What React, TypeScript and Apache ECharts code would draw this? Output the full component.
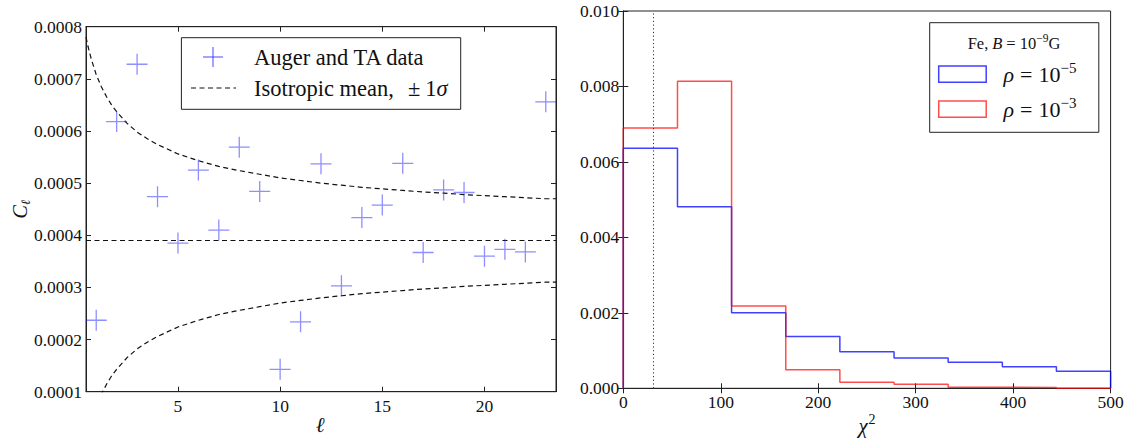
import React, { useEffect, useRef } from "react";
import * as echarts from "echarts";

// ---------- Left panel data ----------
const ELL = [1, 2, 3, 4, 5, 6, 7, 8, 9, 10, 11, 12, 13, 14, 15, 16, 17, 18, 19, 20, 21, 22, 23];
const CL = [
  0.000237, 0.000618, 0.000728, 0.000474, 0.000385, 0.000525, 0.00041, 0.000569, 0.000484,
  0.000143, 0.000234, 0.000537, 0.000303, 0.000434, 0.000458, 0.000538, 0.000367, 0.000487,
  0.000482, 0.00036, 0.000373, 0.000368, 0.000656,
];
const MEAN = 0.00039;
const SIG_ELL = [
  0.5, 0.6, 0.75, 1, 1.25, 1.5, 1.75, 2, 2.5, 3, 3.5, 4, 5, 6, 7, 8, 9, 10, 11, 12, 13, 14, 15, 16,
  17, 18, 19, 20, 21, 22, 23, 23.5,
];
const SIG_UP = [
  0.00078, 0.000762, 0.000739, 0.000708, 0.000685, 0.000666, 0.00065, 0.000637, 0.000615, 0.000598,
  0.000585, 0.000574, 0.000556, 0.000543, 0.000532, 0.000524, 0.000517, 0.00051, 0.000505, 0.0005,
  0.000496, 0.000492, 0.000489, 0.000486, 0.000483, 0.000481, 0.000478, 0.000476, 0.000474, 0.000472,
  0.00047, 0.00047,
];
const SIG_LO = [
  0.0, 0.000018, 0.000041, 0.000072, 0.000095, 0.000114, 0.00013, 0.000143, 0.000165, 0.000182,
  0.000195, 0.000206, 0.000224, 0.000237, 0.000248, 0.000256, 0.000263, 0.00027, 0.000275, 0.00028,
  0.000284, 0.000288, 0.000291, 0.000294, 0.000297, 0.000299, 0.000302, 0.000304, 0.000306, 0.000308,
  0.00031, 0.00031,
];
const L_XMIN = 0.5;
const L_XMAX = 23.5;
const L_XTICKS = [5, 10, 15, 20];

// ---------- Right panel data ----------
const BIN_EDGES = [0, 55.6, 111.1, 166.7, 222.2, 277.8, 333.3, 388.9, 444.4, 500];
const BLUE_HIST = [0.00636, 0.00481, 0.002, 0.00137, 0.00097, 0.0008, 0.00069, 0.00057, 0.00045];
const RED_HIST = [0.0069, 0.00814, 0.00218, 0.00049, 0.00016, 0.00011, 0.00003, 0.00002, 0];
const CHI2_OBS = 31;

const SERIF = "Liberation Serif, DejaVu Serif, serif";
const AX = "#222";
const INK = "#111";
const BLUE = "rgba(0,0,255,0.75)";
const RED = "rgba(255,0,0,0.7)";
const MARK = "rgba(40,40,255,0.65)";

function stepPoints(edges: number[], vals: number[]) {
  const pts: number[][] = [[edges[0], 0]];
  vals.forEach((v, i) => {
    pts.push([edges[i], v]);
    pts.push([edges[i + 1], v]);
  });
  pts.push([edges[edges.length - 1], 0]);
  return pts;
}

let ctx: CanvasRenderingContext2D | null = null;
function measure(text: string, size: number, italic: boolean) {
  if (!ctx) ctx = document.createElement("canvas").getContext("2d");
  if (!ctx) return text.length * size * 0.5;
  ctx.font = `${italic ? "italic " : ""}${size}px ${SERIF}`;
  return ctx.measureText(text).width;
}

type Piece = { t: string; size: number; italic?: boolean; dy?: number; gap?: number };
function mathText(pieces: Piece[], x: number, y: number, align: "left" | "center", rotation = 0) {
  let cx = 0;
  const kids: any[] = [];
  pieces.forEach((p) => {
    cx += p.gap || 0;
    kids.push({
      type: "text",
      x: cx,
      y: p.dy || 0,
      z: 110,
      style: {
        text: p.t,
        fontFamily: SERIF,
        fontSize: p.size,
        fontStyle: p.italic ? "italic" : "normal",
        fill: INK,
        align: "left",
        verticalAlign: "middle",
      },
    });
    cx += measure(p.t, p.size, !!p.italic);
  });
  if (align === "center") kids.forEach((k) => (k.x -= cx / 2));
  return { type: "group", x, y, rotation, z: 110, children: kids };
}

const tickStyle = { inside: true, length: 5, lineStyle: { color: AX, width: 1 } };
const lineStyleAx = { show: true, lineStyle: { color: AX, width: 1 } };
const labelFont = { fontFamily: SERIF, fontSize: 17.5, color: INK };

export default function App() {
  const ref = useRef<HTMLDivElement>(null);
  useEffect(() => {
    if (!ref.current) return;
    const chart = echarts.init(ref.current, null, { renderer: "svg" });

    const G0 = { left: 86, top: 26.7, width: 470, height: 365 };
    const G1 = { left: 623.3, top: 11, width: 487.3, height: 377.3 };

    const dash = { color: INK, width: 1.2, type: [5, 3.5] };

    const option: any = {
      animation: false,
      backgroundColor: "#fff",
      textStyle: { fontFamily: SERIF, color: INK },
      grid: [
        { ...G0, show: true, borderColor: AX, borderWidth: 1 },
        { ...G1, show: true, borderColor: AX, borderWidth: 1 },
      ],
      xAxis: [
        {
          type: "value", gridIndex: 0, min: L_XMIN, max: L_XMAX, position: "bottom",
          axisLine: lineStyleAx, splitLine: { show: false },
          axisTick: { ...tickStyle, customValues: L_XTICKS },
          axisLabel: { ...labelFont, margin: 5, customValues: L_XTICKS },
        },
        {
          type: "value", gridIndex: 0, min: L_XMIN, max: L_XMAX, position: "top",
          axisLine: lineStyleAx, splitLine: { show: false },
          axisTick: { ...tickStyle, customValues: L_XTICKS },
          axisLabel: { show: false },
        },
        {
          type: "value", gridIndex: 1, min: 0, max: 500, interval: 100, position: "bottom",
          axisLine: lineStyleAx, splitLine: { show: false }, axisTick: tickStyle,
          axisLabel: { ...labelFont, margin: 5, showMinLabel: true, showMaxLabel: true },
        },
        {
          type: "value", gridIndex: 1, min: 0, max: 500, interval: 100, position: "top",
          axisLine: lineStyleAx, splitLine: { show: false }, axisTick: tickStyle,
          axisLabel: { show: false },
        },
      ],
      yAxis: [
        {
          type: "value", gridIndex: 0, min: 0.0001, max: 0.0008, interval: 0.0001, position: "left",
          axisLine: lineStyleAx, splitLine: { show: false }, axisTick: tickStyle,
          axisLabel: { ...labelFont, margin: 4, showMinLabel: true, showMaxLabel: true, formatter: (v: number) => v.toFixed(4) },
        },
        {
          type: "value", gridIndex: 0, min: 0.0001, max: 0.0008, interval: 0.0001, position: "right",
          axisLine: lineStyleAx, splitLine: { show: false }, axisTick: tickStyle,
          axisLabel: { show: false },
        },
        {
          type: "value", gridIndex: 1, min: 0, max: 0.01, interval: 0.002, position: "left",
          axisLine: lineStyleAx, splitLine: { show: false }, axisTick: tickStyle,
          axisLabel: { ...labelFont, margin: 4, showMinLabel: true, showMaxLabel: true, formatter: (v: number) => v.toFixed(3) },
        },
        {
          type: "value", gridIndex: 1, min: 0, max: 0.01, interval: 0.002, position: "right",
          axisLine: lineStyleAx, splitLine: { show: false }, axisTick: tickStyle,
          axisLabel: { show: false },
        },
      ],
      series: [
        {
          name: "Auger and TA data", type: "scatter", xAxisIndex: 0, yAxisIndex: 0,
          data: ELL.map((l, i) => [l, CL[i]]),
          symbol: "path://M10 0L10 20M0 10L20 10", symbolSize: 21,
          itemStyle: { color: "none", borderColor: MARK, borderWidth: 1.3 },
          z: 5,
        },
        {
          name: "Isotropic mean", type: "line", xAxisIndex: 0, yAxisIndex: 0,
          data: [[L_XMIN, MEAN], [L_XMAX, MEAN]], symbol: "none", lineStyle: dash,
        },
        {
          name: "+1 sigma", type: "line", xAxisIndex: 0, yAxisIndex: 0,
          data: SIG_ELL.map((l, i) => [l, SIG_UP[i]]), symbol: "none", lineStyle: dash, clip: true,
        },
        {
          name: "-1 sigma", type: "line", xAxisIndex: 0, yAxisIndex: 0,
          data: SIG_ELL.map((l, i) => [l, SIG_LO[i]]), symbol: "none", lineStyle: dash, clip: true,
        },
        {
          name: "rho=1e-5", type: "line", xAxisIndex: 2, yAxisIndex: 2,
          data: stepPoints(BIN_EDGES, BLUE_HIST), symbol: "none",
          lineStyle: { color: BLUE, width: 1.5 },
          markLine: {
            silent: true, symbol: "none", label: { show: false },
            lineStyle: { color: "#333", width: 1, type: [1.2, 2.5] },
            data: [{ xAxis: CHI2_OBS }],
          },
        },
        {
          name: "rho=1e-3", type: "line", xAxisIndex: 2, yAxisIndex: 2,
          data: stepPoints(BIN_EDGES, RED_HIST), symbol: "none",
          lineStyle: { color: RED, width: 1.5 },
        },
      ],
      graphic: [
        // Left legend
        { type: "rect", shape: { x: 181.4, y: 37.7, width: 279.3, height: 71.6 }, style: { fill: "#fff", stroke: AX, lineWidth: 1 }, z: 100 },
        { type: "line", shape: { x1: 203, y1: 57, x2: 223, y2: 57 }, style: { stroke: MARK, lineWidth: 1.3 }, z: 101 },
        { type: "line", shape: { x1: 213, y1: 47, x2: 213, y2: 67 }, style: { stroke: MARK, lineWidth: 1.3 }, z: 101 },
        { type: "line", shape: { x1: 191, y1: 88, x2: 236, y2: 88 }, style: { stroke: INK, lineWidth: 1.2, lineDash: [5, 3.5] }, z: 101 },
        mathText([{ t: "Auger and TA data", size: 22.5 }], 254, 57, "left"),
        mathText(
          [
            { t: "Isotropic mean,", size: 22.5 },
            { t: "±", size: 22.5, gap: 14 },
            { t: "1", size: 22.5, gap: 5 },
            { t: "σ", size: 22.5, italic: true },
          ],
          254, 88, "left"
        ),
        // Left axis names
        mathText([{ t: "C", size: 20, italic: true }, { t: "ℓ", size: 13, italic: true, dy: 5 }], 20, 209, "center", Math.PI / 2),
        mathText([{ t: "ℓ", size: 21, italic: true }], 320, 425, "center"),
        // Right axis name
        mathText([{ t: "χ", size: 21, italic: true }, { t: "2", size: 14, dy: -7, gap: 1 }], 867, 426, "center"),
        // Right legend
        { type: "rect", shape: { x: 929.7, y: 22.7, width: 169.1, height: 109.6 }, style: { fill: "#fff", stroke: AX, lineWidth: 1 }, z: 100 },
        mathText(
          [
            { t: "Fe,", size: 16.5 },
            { t: "B", size: 16.5, italic: true, gap: 4 },
            { t: "=", size: 16.5, gap: 4 },
            { t: "10", size: 16.5, gap: 4 },
            { t: "−9", size: 11.5, dy: -5 },
            { t: "G", size: 16.5 },
          ],
          1014, 43, "center"
        ),
        { type: "rect", shape: { x: 938.7, y: 66, width: 47.5, height: 16.3 }, style: { fill: "none", stroke: BLUE, lineWidth: 1.5 }, z: 101 },
        { type: "rect", shape: { x: 938.7, y: 101, width: 47.5, height: 16.3 }, style: { fill: "none", stroke: RED, lineWidth: 1.5 }, z: 101 },
        mathText(
          [
            { t: "ρ", size: 22, italic: true },
            { t: "=", size: 22, gap: 6 },
            { t: "10", size: 22, gap: 6 },
            { t: "−5", size: 15, dy: -6 },
          ],
          1003.5, 74, "left"
        ),
        mathText(
          [
            { t: "ρ", size: 22, italic: true },
            { t: "=", size: 22, gap: 6 },
            { t: "10", size: 22, gap: 6 },
            { t: "−3", size: 15, dy: -6 },
          ],
          1003.5, 109, "left"
        ),
      ],
    };

    chart.setOption(option);
    return () => chart.dispose();
  }, []);

  return (
    <div
      ref={ref}
      style={{ position: "fixed", left: 0, top: 0, width: 1134, height: 442, background: "#fff" }}
    />
  );
}
